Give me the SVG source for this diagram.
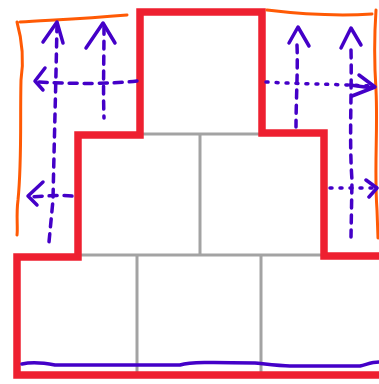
<svg xmlns="http://www.w3.org/2000/svg" width="379" height="384" viewBox="0 0 379 384">
<style>
.grid{fill:none;stroke:#a3a3a3;stroke-width:3}
.wall{fill:none;stroke:#ee2030;stroke-width:7.5;stroke-linejoin:miter}
.brk{fill:none;stroke:#ff5a05;stroke-width:3;stroke-linecap:round;stroke-linejoin:round}
.pen{fill:none;stroke:#4400c8;stroke-width:3.5;stroke-linecap:round;stroke-linejoin:round}
.dash{stroke-dasharray:8 7}
.dot{stroke-dasharray:2 8}
</style>
<rect width="379" height="384" fill="#ffffff"/>
<g id="grid">
<path class="grid" d="M140,134 H262 M200,134 V256 M78,255 H324 M137,255 V376 M261,255 V376"/>
</g>
<g id="outline">
<path class="wall" d="M385,256 H324 V133 H262 V12 H140 V135 H78 V257 H17 V375 H385"/>
</g>
<g id="brackets">
<path class="brk" d="M20,22 C50,20 80,19 127,15 M17,22 C22,40 24,60 21,80 C20,120 22,160 18,200 C16,215 18,228 17,235"/>
<path class="brk" d="M267,10 C300,14 340,16 372,14 M376,10 C374,40 374,60 376,90 C378,130 374,170 377,210 L378,238"/>
</g>
<g id="connectors">
<path class="pen dash" d="M57,24 C56,80 54,150 53,200 L49,242"/>
<path class="pen" d="M43,42 L57,22 L63,43"/>
<path class="pen dash" d="M104,26 C104,60 103,90 104,118"/>
<path class="pen" d="M86,48 L103,23 L115,43"/>
<path class="pen dash" d="M137,81 C110,84 80,84 37,82"/>
<path class="pen" d="M45,68 L35,81 L43,90"/>
<path class="pen dash" d="M72,196 C60,195 45,196 30,197"/>
<path class="pen" d="M43,182 L28,196 L37,205"/>
<path class="pen dash" d="M297,45 C298,70 296,100 296,127"/>
<path class="pen" d="M289,43 L298,27 L309,46"/>
<path class="pen dash" d="M351,50 C352,90 349,140 352,180 L351,237"/>
<path class="pen" d="M341,48 L351,28 L361,45"/>
<path class="pen dot" d="M266,82 C300,84 330,84 372,86"/>
<path class="pen" d="M359,75 L375,87 L352,96 M350,85 L372,88"/>
<path class="pen dot" d="M330,188 L375,188"/>
<path class="pen" d="M366,180 L377,188 L369,197"/>
<path class="pen" d="M22,364 C30,362 40,362 55,365 L180,365 C190,362 210,362 255,363 C265,364 280,366 290,366 L360,366 C368,364 372,362 379,362"/>
</g>
</svg>
